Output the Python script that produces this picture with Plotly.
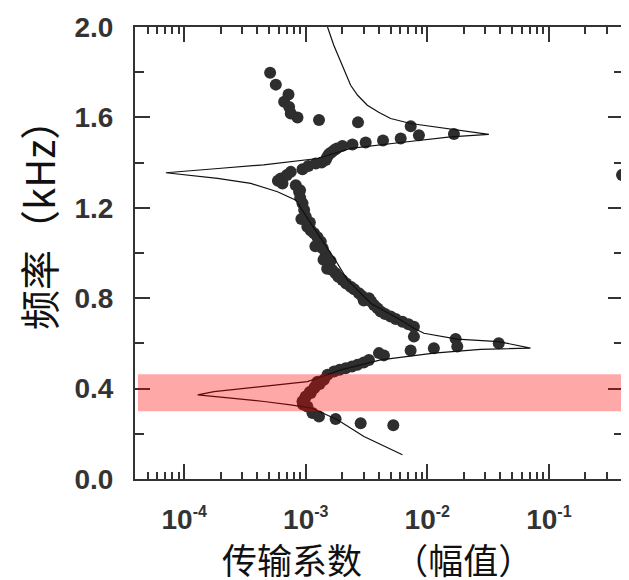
import plotly.graph_objects as go

# ---- theory curve (frequency kHz, transmission amplitude) ----
line_freq = [0.107, 0.188, 0.262, 0.314, 0.328, 0.343, 0.358, 0.3725, 0.387, 0.402, 0.417, 0.431,
             0.455, 0.483, 0.527, 0.557, 0.574, 0.579, 0.608, 0.619, 0.645, 0.667, 0.704, 0.778,
             0.881, 0.969, 1.131, 1.234, 1.271, 1.308, 1.330, 1.355, 1.374, 1.390, 1.418, 1.463,
             1.489, 1.514, 1.5245, 1.548, 1.559, 1.573, 1.595, 1.623, 1.654, 1.698, 1.742, 1.795,
             1.845, 1.919, 2.0]
line_amp = [6.24e-3, 3.01e-3, 1.82e-3, 1.12e-3, 7.5e-4, 4.54e-4, 2.42e-4, 1.29e-4, 1.76e-4, 3.32e-4, 6.24e-4, 1.03e-3,
            1.4e-3, 1.94e-3, 4.13e-3, 1.13e-2, 2.74e-2, 7.06e-2, 3.87e-2, 1.76e-2, 9.38e-3, 7.76e-3, 6.04e-3, 3.42e-3,
            2.2e-3, 1.75e-3, 1.1e-3, 8.3e-4, 5.85e-4, 3.53e-4, 1.88e-4, 7.07e-5, 1.9e-4, 4.5e-4, 1.25e-3, 2.34e-3,
            6.04e-3, 1.55e-2, 3.21e-2, 1.55e-2, 1.064e-2, 7.29e-3, 4.99e-3, 3.98e-3, 3.21e-3, 2.67e-3, 2.34e-3, 2.13e-3,
            1.94e-3, 1.70e-3, 1.51e-3]

# ---- measured points ----
pt_freq = [1.798, 1.745, 1.701, 1.669, 1.646, 1.617, 1.600, 1.588, 1.578, 1.561, 1.521, 1.527,
           1.507, 1.498, 1.489, 1.480, 1.474, 1.455, 1.437, 1.411, 1.396, 1.371, 1.359, 1.330,
           1.308, 1.300, 1.278, 1.462, 1.445, 1.400, 1.385, 1.425, 1.345, 1.320,
           1.271, 1.220, 1.160, 1.116, 1.087, 1.050, 0.991, 0.947, 0.910, 0.881, 0.851, 0.822,
           0.800, 0.770, 0.741, 0.719, 0.696, 0.674,
           1.245, 1.190, 1.150, 1.135, 1.100, 1.070, 1.030, 1.020, 0.970, 0.965, 0.930, 0.925,
           0.895, 0.865, 0.840, 0.810, 0.790, 0.785, 0.755, 0.730, 0.708, 0.685,
           0.630, 0.620, 0.586, 0.601, 0.579, 0.569, 0.547, 0.557, 0.527, 0.505, 0.4905, 0.4755,
           0.461, 0.439, 0.402, 0.365, 0.343, 0.321, 0.292, 0.277, 0.265, 0.247, 0.238,
           0.515, 0.498, 0.483, 0.420, 0.430, 0.385, 0.355, 0.330, 0.380, 0.410,
           1.345]
pt_amp = [5.09e-4, 5.67e-4, 7.21e-4, 6.64e-4, 7.3e-4, 7.53e-4, 8.55e-4, 1.285e-3, 2.69e-3, 7.3e-3, 8.53e-3, 1.656e-2,
          6.04e-3, 4.32e-3, 3.11e-3, 2.42e-3, 2.0e-3, 1.71e-3, 1.55e-3, 1.46e-3, 1.21e-3, 9.4e-4, 7.53e-4, 6.24e-4,
          6.43e-4, 8.28e-4, 8.97e-4, 1.8e-3, 1.62e-3, 1.35e-3, 1.05e-3, 1.5e-3, 7.0e-4, 5.9e-4,
          8.81e-4, 9.4e-4, 1.0e-3, 1.03e-3, 1.17e-3, 1.33e-3, 1.46e-3, 1.55e-3, 1.76e-3, 2.0e-3, 2.34e-3, 2.74e-3,
          3.31e-3, 3.64e-3, 4.13e-3, 4.99e-3, 6.24e-3, 7.76e-3,
          9.0e-4, 9.7e-4, 9.2e-4, 1.08e-3, 1.1e-3, 1.25e-3, 1.2e-3, 1.38e-3, 1.4e-3, 1.6e-3, 1.5e-3, 1.65e-3,
          1.85e-3, 2.15e-3, 2.5e-3, 2.9e-3, 3.0e-3, 3.45e-3, 3.9e-3, 4.5e-3, 5.5e-3, 7.0e-3,
          7.76e-3, 1.71e-2, 1.764e-2, 3.87e-2, 1.132e-2, 7.29e-3, 4.4e-3, 4.0e-3, 3.31e-3, 2.66e-3, 2.13e-3, 1.71e-3,
          1.51e-3, 1.41e-3, 1.17e-3, 1.0e-3, 9.4e-4, 1.03e-3, 1.135e-3, 1.285e-3, 1.76e-3, 2.83e-3, 5.25e-3,
          3.0e-3, 2.4e-3, 1.9e-3, 1.3e-3, 1.25e-3, 1.08e-3, 9.8e-4, 9.5e-4, 1.1e-3, 1.2e-3,
          0.40]

# ---- axis ticks ----
x_tickvals = [1e-4, 1e-3, 1e-2, 1e-1]
x_ticktext = ["10<sup><span style='font-size:16px'>-4</span></sup>",
              "10<sup><span style='font-size:16px'>-3</span></sup>",
              "10<sup><span style='font-size:16px'>-2</span></sup>",
              "10<sup><span style='font-size:16px'>-1</span></sup>"]
y_tickvals = [0.0, 0.4, 0.8, 1.2, 1.6, 2.0]
y_ticktext = ["0.0", "0.4", "0.8", "1.2", "1.6", "2.0"]
y_minor = [0.2, 0.6, 1.0, 1.4, 1.8]
x_minor = [d * 10.0 ** e for e in range(-5, 0) for d in range(2, 10)]

band_low, band_high = 0.30, 0.464

AX = "#333333"
tickfont = dict(family="Liberation Sans, Arial", size=28, color="#333333", weight="bold")
cjk = "Noto Sans CJK SC"
NB = "\u00a0"

fig = go.Figure()
fig.add_trace(go.Scatter(x=pt_amp, y=pt_freq, mode="markers", cliponaxis=False,
                         marker=dict(size=12, color="#2e2e2e", line=dict(width=0)),
                         showlegend=False))
fig.add_trace(go.Scatter(x=line_amp, y=line_freq, mode="lines",
                         line=dict(color="#111111", width=1.2), showlegend=False))

fig.add_shape(type="rect", xref="paper", yref="y", x0=0.006, x1=1.006,
              y0=band_low, y1=band_high, fillcolor="rgba(255,0,0,0.34)",
              line=dict(width=0), layer="above")

# page body has an 8px margin, so the figure is sized/offset to compensate
fig.update_layout(
    width=621, height=572,
    margin=dict(l=127, r=6.4, t=19, b=100.7, autoexpand=False),
    paper_bgcolor="white", plot_bgcolor="white",
    xaxis=dict(type="log", range=[-4.405, -0.39], showline=True, linewidth=2, linecolor=AX,
               mirror="ticks", ticks="inside", ticklen=15, tickwidth=1.5, tickcolor=AX,
               tickmode="array", tickvals=x_tickvals, ticktext=x_ticktext, tickfont=tickfont,
               showgrid=False, zeroline=False, ticklabelstandoff=14, automargin=False,
               minor=dict(tickmode="array", tickvals=x_minor, ticks="inside", ticklen=7,
                          tickwidth=1.5, tickcolor=AX, showgrid=False)),
    yaxis=dict(range=[0, 2.0], showline=True, linewidth=2, linecolor=AX,
               mirror="ticks", ticks="inside", ticklen=15, tickwidth=1.5, tickcolor=AX,
               tickmode="array", tickvals=y_tickvals, ticktext=y_ticktext, tickfont=tickfont,
               showgrid=False, zeroline=False, ticklabelstandoff=14, automargin=False,
               minor=dict(tickmode="array", tickvals=y_minor, ticks="inside", ticklen=9,
                          tickwidth=1.5, tickcolor=AX, showgrid=False)),
    annotations=[
        dict(text="传输系数" + NB * 4 + "（幅值）", xref="paper", yref="paper", x=0.496, y=-0.176,
             xanchor="center", yanchor="middle", showarrow=False,
             font=dict(family=cjk, size=35, color="#111111")),
        dict(text="频率（kHz）", xref="paper", yref="paper", x=-0.199, y=0.584,
             xanchor="center", yanchor="middle", showarrow=False, textangle=-90,
             font=dict(family=cjk, size=40, color="#111111")),
    ],
)

fig.write_html("out.html")
